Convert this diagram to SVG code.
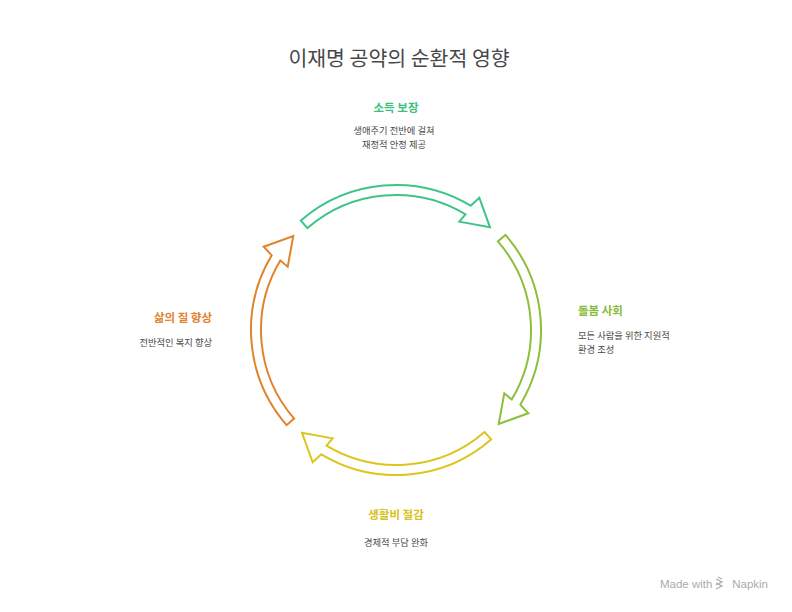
<svg xmlns="http://www.w3.org/2000/svg" xmlns:xlink="http://www.w3.org/1999/xlink" width="792" height="612" viewBox="0 0 792 612">
<style>
.ttl{font-family:"Noto Sans CJK KR","Noto Sans",sans-serif;font-size:20.5px;fill:#484848}
.hd{font-family:"Noto Sans CJK KR","Noto Sans",sans-serif;font-size:11.5px;font-weight:bold}
.ds{font-family:"Noto Sans CJK KR","Noto Sans",sans-serif;font-size:9.3px;fill:#4a4a4a}
.arr{fill:#ffffff;stroke-width:2;stroke-linejoin:miter}
.c1{stroke:#3DC585}
.c2{stroke:#8CBF3A}
.c3{stroke:#DCC51C}
.c4{stroke:#E0842C}
.brand{font-family:"Liberation Sans",Arial,sans-serif;font-size:11.5px;fill:#ababab}
</style>
<defs>
<path id="arrow" d="M 300.87 220.57 A 145 145 0 0 1 470.68 205.71 L 479.3 197.7 L 490 227.3 L 459.3 221.7 L 465.53 214.28 A 135 135 0 0 0 307.43 228.12 Z"/>
</defs>
<rect width="792" height="612" fill="#ffffff"/>
<text class="ttl" x="399" y="66" text-anchor="middle">이재명 공약의 순환적 영향</text>
<g id="connectors">
<use xlink:href="#arrow" class="arr c1"/>
<use xlink:href="#arrow" class="arr c2" transform="rotate(90 396 330)"/>
<use xlink:href="#arrow" class="arr c3" transform="rotate(180 396 330)"/>
<use xlink:href="#arrow" class="arr c4" transform="rotate(270 396 330)"/>
</g>
<g id="node-income">
<text class="hd" x="396" y="112" text-anchor="middle" fill="#3DBF7E">소득 보장</text>
<text class="ds" x="394" y="134" text-anchor="middle">생애주기 전반에 걸쳐</text>
<text class="ds" x="394" y="147.5" text-anchor="middle">재정적 안정 제공</text>
</g>
<g id="node-care">
<text class="hd" x="578" y="315" fill="#8ABB3A">돌봄 사회</text>
<text class="ds" x="578" y="339">모든 사람을 위한 지원적</text>
<text class="ds" x="578" y="352.5">환경 조성</text>
</g>
<g id="node-cost">
<text class="hd" x="396" y="519" text-anchor="middle" fill="#D8C11B">생활비 절감</text>
<text class="ds" x="396" y="546" text-anchor="middle">경제적 부담 완화</text>
</g>
<g id="node-life">
<text class="hd" x="212" y="322" text-anchor="end" fill="#E0842C">삶의 질 향상</text>
<text class="ds" x="212" y="345.5" text-anchor="end">전반적인 복지 향상</text>
</g>
<g id="brand">
<text class="brand" x="660" y="588">Made with</text>
<path d="M716 579 L722 582 L716 585 M716 583 L722 586 L716 589 M718 577 L722 579" fill="none" stroke="#ababab" stroke-width="1.3"/>
<text class="brand" x="768" y="588" text-anchor="end">Napkin</text>
</g>
</svg>
